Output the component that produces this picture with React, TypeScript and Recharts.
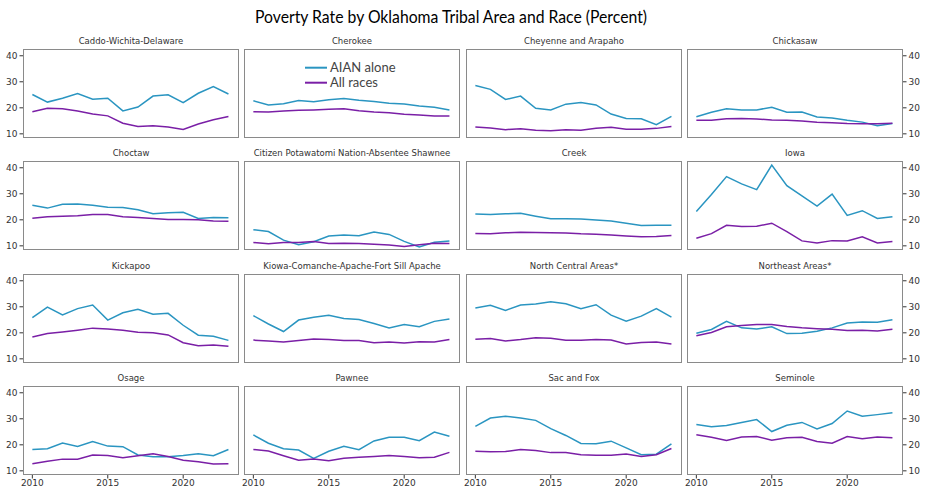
import React from "react";
import { LineChart, Line, XAxis, YAxis } from "recharts";

const years = [2010, 2011, 2012, 2013, 2014, 2015, 2016, 2017, 2018, 2019, 2020, 2021, 2022, 2023];
const areas = [
  "Caddo-Wichita-Delaware", "Cherokee", "Cheyenne and Arapaho", "Chickasaw",
  "Choctaw", "Citizen Potawatomi Nation-Absentee Shawnee", "Creek", "Iowa",
  "Kickapoo", "Kiowa-Comanche-Apache-Fort Sill Apache", "North Central Areas*", "Northeast Areas*",
  "Osage", "Pawnee", "Sac and Fox", "Seminole",
];

const aianCaddo = [25.1, 22.2, 23.7, 25.5, 23.3, 23.7, 18.8, 20.3, 24.5, 25.0, 22.0, 25.6, 28.2, 25.3];
const allCaddo = [18.5, 19.8, 19.6, 18.8, 17.6, 16.9, 14.1, 12.8, 13.1, 12.6, 11.7, 13.8, 15.4, 16.7];
const aianCherokee = [22.7, 21.1, 21.6, 22.8, 22.3, 23.1, 23.6, 22.9, 22.4, 21.8, 21.5, 20.7, 20.2, 19.2];
const allCherokee = [18.5, 18.4, 18.8, 19.1, 19.2, 19.4, 19.6, 18.9, 18.4, 18.1, 17.5, 17.2, 16.9, 16.9];
const aianCheyenne = [28.6, 27.1, 23.2, 24.5, 19.8, 19.2, 21.4, 22.0, 21.1, 17.6, 15.9, 15.8, 13.5, 16.7];
const allCheyenne = [12.6, 12.2, 11.6, 12.0, 11.4, 11.2, 11.6, 11.4, 12.1, 12.5, 11.8, 11.8, 12.1, 12.8];
const aianChickasaw = [16.6, 18.3, 19.6, 19.2, 19.2, 20.2, 18.3, 18.4, 16.5, 16.1, 15.2, 14.5, 13.1, 14.0];
const allChickasaw = [15.2, 15.2, 15.8, 15.9, 15.7, 15.3, 15.2, 14.9, 14.5, 14.3, 14.0, 13.9, 13.9, 14.1];
const aianChoctaw = [25.6, 24.5, 26.0, 26.1, 25.6, 24.8, 24.7, 23.9, 22.3, 22.7, 22.9, 20.5, 20.9, 20.8];
const allChoctaw = [20.6, 21.2, 21.4, 21.6, 22.0, 22.0, 21.2, 20.9, 20.5, 20.1, 20.1, 20.0, 19.5, 19.4];
const aianPotawatomi = [16.2, 15.5, 12.2, 10.4, 11.6, 13.8, 14.2, 13.9, 15.3, 14.4, 11.7, 9.6, 11.4, 11.9];
const allPotawatomi = [11.3, 10.8, 11.3, 11.3, 11.7, 10.9, 11.0, 10.9, 10.6, 10.3, 9.7, 10.4, 11.0, 10.9];
const aianCreek = [22.2, 22.0, 22.3, 22.5, 21.4, 20.4, 20.4, 20.3, 19.9, 19.5, 18.7, 17.8, 17.9, 17.9];
const allCreek = [14.7, 14.6, 15.0, 15.2, 15.1, 15.0, 14.9, 14.6, 14.5, 14.2, 13.8, 13.5, 13.6, 14.0];
const aianIowa = [23.2, 29.7, 36.6, 33.8, 31.6, 41.0, 33.1, 29.2, 25.3, 29.9, 21.7, 23.5, 20.5, 21.2];
const allIowa = [12.9, 14.7, 17.9, 17.4, 17.5, 18.7, 15.5, 11.9, 11.1, 12.0, 11.9, 13.5, 11.1, 11.7];
const aianKickapoo = [25.8, 29.9, 26.9, 29.3, 30.7, 24.9, 27.7, 29.0, 27.1, 27.5, 22.9, 19.1, 18.7, 17.1];
const allKickapoo = [18.4, 19.7, 20.3, 21.0, 21.8, 21.5, 21.0, 20.2, 20.0, 19.2, 16.2, 15.0, 15.3, 14.8];
const aianKiowa = [26.6, 23.4, 20.5, 24.9, 26.0, 26.7, 25.5, 25.1, 23.6, 21.9, 23.2, 22.3, 24.4, 25.3];
const allKiowa = [17.2, 16.9, 16.5, 17.0, 17.6, 17.4, 17.0, 17.0, 16.2, 16.5, 16.1, 16.6, 16.5, 17.4];
const aianNorthCentral = [29.5, 30.6, 28.6, 30.7, 31.1, 31.9, 31.2, 29.3, 30.8, 26.8, 24.5, 26.4, 29.3, 26.0];
const allNorthCentral = [17.5, 17.8, 16.9, 17.4, 18.1, 17.9, 17.1, 17.1, 17.4, 17.2, 15.7, 16.3, 16.5, 15.7];
const aianNortheast = [19.8, 21.3, 24.4, 21.9, 21.5, 22.3, 19.7, 19.8, 20.6, 21.9, 23.8, 24.2, 24.1, 25.0];
const allNortheast = [18.9, 20.1, 22.3, 22.8, 23.2, 23.2, 22.4, 21.9, 21.6, 21.4, 20.9, 21.0, 20.7, 21.4];
const aianOsage = [18.2, 18.5, 20.7, 19.4, 21.3, 19.5, 19.3, 16.1, 15.4, 15.4, 15.9, 16.6, 15.8, 18.2];
const allOsage = [12.7, 13.7, 14.5, 14.5, 16.1, 15.9, 15.0, 15.8, 16.6, 15.5, 14.1, 13.5, 12.6, 12.7];
const aianPawnee = [23.8, 20.6, 18.5, 18.0, 14.8, 17.5, 19.4, 18.1, 21.5, 22.9, 22.9, 21.6, 24.9, 23.3];
const allPawnee = [18.2, 17.6, 15.8, 14.1, 14.5, 13.9, 14.8, 15.2, 15.5, 15.9, 15.5, 15.0, 15.2, 17.1];
const aianSacFox = [27.1, 30.3, 31.0, 30.3, 29.4, 26.2, 23.6, 20.5, 20.4, 21.4, 18.8, 16.2, 16.4, 20.4];
const allSacFox = [17.5, 17.3, 17.4, 18.2, 17.8, 17.0, 17.0, 16.2, 16.0, 16.0, 16.5, 15.5, 16.2, 18.6];
const aianSeminole = [27.8, 26.9, 27.4, 28.6, 29.7, 25.1, 27.5, 28.6, 26.1, 28.2, 33.0, 31.0, 31.6, 32.3];
const allSeminole = [23.9, 22.9, 21.7, 23.0, 23.2, 21.8, 22.7, 22.9, 21.3, 20.6, 23.2, 22.3, 23.0, 22.7];

const aianSeries = [
  aianCaddo, aianCherokee, aianCheyenne, aianChickasaw,
  aianChoctaw, aianPotawatomi, aianCreek, aianIowa,
  aianKickapoo, aianKiowa, aianNorthCentral, aianNortheast,
  aianOsage, aianPawnee, aianSacFox, aianSeminole,
];
const allSeries = [
  allCaddo, allCherokee, allCheyenne, allChickasaw,
  allChoctaw, allPotawatomi, allCreek, allIowa,
  allKickapoo, allKiowa, allNorthCentral, allNortheast,
  allOsage, allPawnee, allSacFox, allSeminole,
];

const yTicks = [10, 20, 30, 40];
const xTicks = [2010, 2015, 2020];
const seriesNames = ["AIAN alone", "All races"];
const chartTitle = "Poverty Rate by Oklahoma Tribal Area and Race (Percent)";

const BLUE = "#2a95c1";
const PURPLE = "#7a1fa6";
const COL_X = [23, 244, 466, 687];
const ROW_Y = [49, 161, 274, 386];
const BW = 216;
const BH = 89;
const AX = 26;
const tickFont = { fontSize: 9, fill: "#333", fontFamily: "DejaVu Sans" };

function Panel({ idx }: { idx: number }) {
  const r = Math.floor(idx / 4);
  const c = idx % 4;
  const hasLeft = c === 0;
  const hasRight = c === 3;
  const bottom = r === 3;
  const data = years.map((y, i) => ({ year: y, aian: aianSeries[idx][i], all: allSeries[idx][i] }));
  const h = BH + (bottom ? 20 : 0);
  return (
    <>
      <div
        style={{
          position: "absolute",
          left: COL_X[c],
          top: ROW_Y[r] - 14,
          width: BW,
          textAlign: "center",
          fontFamily: "DejaVu Sans",
          fontSize: 8.5,
          color: "#333",
          lineHeight: "12px",
          whiteSpace: "nowrap",
        }}
      >
        {areas[idx]}
      </div>
      <div style={{ position: "absolute", left: COL_X[c] - AX, top: ROW_Y[r] }}>
        <LineChart
          width={BW + 2 * AX}
          height={h}
          data={data}
          style={{ overflow: "visible" }}
          margin={{ top: 0, bottom: 0, left: hasLeft ? 0 : AX, right: hasRight ? 0 : AX }}
        >
          <XAxis
            dataKey="year"
            type="number"
            domain={[2009.38, 2023.7]}
            ticks={xTicks}
            interval={0}
            hide={!bottom}
            height={20}
            tick={tickFont}
            tickSize={3.5}
            tickMargin={1}
            axisLine={false}
            tickLine={{ stroke: "#333" }}
            allowDataOverflow
          />
          <YAxis
            type="number"
            domain={[8.4, 42.6]}
            ticks={yTicks}
            interval={0}
            hide={!(hasLeft || hasRight)}
            orientation={hasRight ? "right" : "left"}
            width={AX}
            tick={tickFont}
            tickSize={3.5}
            tickMargin={2}
            axisLine={false}
            tickLine={{ stroke: "#333" }}
            allowDataOverflow
          />
          <Line dataKey="aian" stroke={BLUE} strokeWidth={1.5} dot={false} isAnimationActive={false} />
          <Line dataKey="all" stroke={PURPLE} strokeWidth={1.5} dot={false} isAnimationActive={false} />
        </LineChart>
      </div>
      <div
        style={{
          position: "absolute",
          left: COL_X[c],
          top: ROW_Y[r],
          width: BW,
          height: BH,
          border: "1px solid #8a8a8a",
          boxSizing: "border-box",
          pointerEvents: "none",
        }}
      />
    </>
  );
}

export default function App() {
  return (
    <div style={{ position: "absolute", left: 0, top: 0, width: 925, height: 494, background: "#fff", overflow: "hidden" }}>
      <svg style={{ position: "absolute", left: 0, top: 0 }} width={925} height={40}>
        <text
          x={451}
          y={23}
          textAnchor="middle"
          fontFamily="Lato, 'Open Sans', sans-serif"
          fontSize={18}
          fill="#000"
          textLength={392}
          lengthAdjust="spacingAndGlyphs"
        >
          {chartTitle}
        </text>
      </svg>
      {areas.map((_, i) => (
        <Panel key={i} idx={i} />
      ))}
      <svg style={{ position: "absolute", left: 300, top: 58, pointerEvents: "none" }} width={110} height={34}>
        <line x1={5} x2={27} y1={9.7} y2={9.7} stroke={BLUE} strokeWidth={2} />
        <line x1={5} x2={27} y1={24.7} y2={24.7} stroke={PURPLE} strokeWidth={2} />
        <text x={30} y={14} fontFamily="Lato, sans-serif" fontSize={13} fill="#444">{seriesNames[0]}</text>
        <text x={30} y={29} fontFamily="Lato, sans-serif" fontSize={13} fill="#444">{seriesNames[1]}</text>
      </svg>
    </div>
  );
}
